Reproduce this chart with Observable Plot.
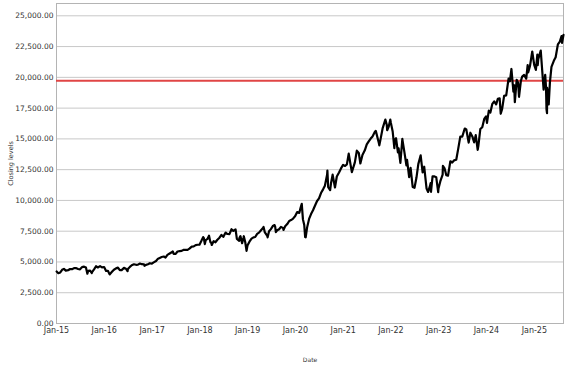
<!DOCTYPE html>
<html>
<head>
<meta charset="utf-8">
<script src="https://cdn.jsdelivr.net/npm/d3@7"></script>
<script src="https://cdn.jsdelivr.net/npm/@observablehq/plot@0.6"></script>
<style>
  html, body { margin: 0; padding: 0; background: #fff; }
  #chart svg { display: block; }
</style>
</head>
<body>
<div id="chart"></div>
<script>
// Closing levels (date, close)
const y2015 = [["2015-01-02",4230],["2015-01-15",4090],["2015-01-30",4150],["2015-02-13",4360],["2015-02-27",4440],["2015-03-13",4300],["2015-03-31",4330],["2015-04-15",4430],["2015-04-30",4415],["2015-05-15",4500],["2015-05-29",4510],["2015-06-15",4430],["2015-06-30",4400],["2015-07-15",4580],["2015-07-31",4620],["2015-08-14",4550],["2015-08-25",4050],["2015-08-31",4270],["2015-09-15",4290],["2015-09-28",4100],["2015-09-30",4180],["2015-10-15",4400],["2015-10-30",4650],["2015-11-13",4550],["2015-11-30",4665],["2015-12-15",4560],["2015-12-31",4590]];
const y2016 = [["2016-01-15",4270],["2016-01-29",4280],["2016-02-11",3990],["2016-02-29",4200],["2016-03-15",4370],["2016-03-31",4480],["2016-04-15",4540],["2016-04-29",4340],["2016-05-13",4340],["2016-05-31",4520],["2016-06-15",4450],["2016-06-27",4250],["2016-06-30",4420],["2016-07-15",4600],["2016-07-29",4730],["2016-08-15",4810],["2016-08-31",4770],["2016-09-15",4780],["2016-09-30",4875],["2016-10-14",4820],["2016-10-31",4810],["2016-11-04",4690],["2016-11-15",4760],["2016-11-30",4810],["2016-12-15",4900],["2016-12-30",4860]];
const y2017 = [["2017-01-13",4970],["2017-01-31",5080],["2017-02-15",5270],["2017-02-28",5330],["2017-03-15",5400],["2017-03-31",5440],["2017-04-13",5360],["2017-04-28",5580],["2017-05-15",5690],["2017-05-31",5790],["2017-06-08",5860],["2017-06-15",5650],["2017-06-30",5650],["2017-07-14",5850],["2017-07-31",5880],["2017-08-15",5900],["2017-08-31",5990],["2017-09-15",5990],["2017-09-29",5980],["2017-10-13",6080],["2017-10-31",6250],["2017-11-15",6270],["2017-11-30",6370],["2017-12-15",6400],["2017-12-29",6400]];
const y2018 = [["2018-01-12",6700],["2018-01-26",7020],["2018-01-31",6950],["2018-02-08",6450],["2018-02-15",6780],["2018-02-28",6870],["2018-03-12",7130],["2018-03-23",6590],["2018-03-29",6580],["2018-04-02",6380],["2018-04-16",6690],["2018-04-30",6600],["2018-05-15",6800],["2018-05-31",6970],["2018-06-15",7200],["2018-06-29",7040],["2018-07-17",7390],["2018-07-31",7270],["2018-08-15",7260],["2018-08-31",7660],["2018-09-14",7520],["2018-09-28",7630],["2018-10-01",7640],["2018-10-11",6880],["2018-10-29",6720],["2018-10-31",6970],["2018-11-07",7100],["2018-11-20",6530],["2018-11-30",6950],["2018-12-03",7090],["2018-12-14",6600],["2018-12-24",5900],["2018-12-31",6330]];
const y2019 = [["2019-01-15",6650],["2019-01-31",6900],["2019-02-15",7000],["2019-02-28",7030],["2019-03-15",7280],["2019-03-29",7380],["2019-04-15",7600],["2019-04-30",7780],["2019-05-03",7850],["2019-05-13",7400],["2019-05-31",7130],["2019-06-03",7000],["2019-06-14",7500],["2019-06-28",7670],["2019-07-15",7950],["2019-07-26",8000],["2019-07-31",7850],["2019-08-05",7430],["2019-08-15",7570],["2019-08-30",7660],["2019-09-13",7850],["2019-09-30",7750],["2019-10-02",7600],["2019-10-15",7900],["2019-10-31",8080],["2019-11-15",8330],["2019-11-29",8400],["2019-12-13",8500],["2019-12-31",8730]];
const y2020 = [["2020-01-15",9050],["2020-01-31",8990],["2020-02-10",9400],["2020-02-19",9720],["2020-02-28",8460],["2020-03-09",8000],["2020-03-16",7020],["2020-03-20",7000],["2020-03-31",7810],["2020-04-15",8500],["2020-04-30",8890],["2020-05-15",9200],["2020-05-29",9550],["2020-06-15",9950],["2020-06-30",10160],["2020-07-15",10600],["2020-07-31",10900],["2020-08-14",11200],["2020-08-31",12110],["2020-09-02",12420],["2020-09-08",11070],["2020-09-23",10830],["2020-09-30",11420],["2020-10-12",12090],["2020-10-30",11050],["2020-11-13",11940],["2020-11-30",12270],["2020-12-15",12600],["2020-12-31",12890]];
const y2021 = [["2021-01-15",12800],["2021-01-29",12930],["2021-02-12",13800],["2021-02-26",12910],["2021-03-08",12300],["2021-03-31",13090],["2021-04-15",14040],["2021-04-30",13860],["2021-05-12",13000],["2021-05-28",13690],["2021-06-15",14070],["2021-06-30",14550],["2021-07-15",14800],["2021-07-30",15030],["2021-08-13",15200],["2021-08-31",15580],["2021-09-07",15650],["2021-09-30",14690],["2021-10-04",14470],["2021-10-15",15060],["2021-10-29",15850],["2021-11-19",16570],["2021-11-30",16140],["2021-12-03",15700],["2021-12-15",16000],["2021-12-27",16570],["2021-12-31",16320]];
const y2022 = [["2022-01-14",15600],["2022-01-27",14250],["2022-01-31",14930],["2022-02-09",15050],["2022-02-23",13900],["2022-02-28",14240],["2022-03-14",13050],["2022-03-29",15000],["2022-03-31",14840],["2022-04-14",13900],["2022-04-29",12850],["2022-05-04",13300],["2022-05-20",11900],["2022-05-31",12640],["2022-06-16",11100],["2022-06-30",11030],["2022-07-15",11860],["2022-07-29",12950],["2022-08-16",13670],["2022-08-31",12270],["2022-09-12",12740],["2022-09-30",10970],["2022-10-12",10690],["2022-10-27",11200],["2022-10-31",11400],["2022-11-03",10700],["2022-11-15",11950],["2022-11-30",11950],["2022-12-13",11890],["2022-12-28",10680],["2022-12-30",10940]];
const y2023 = [["2023-01-13",11540],["2023-01-31",12100],["2023-02-02",12800],["2023-02-15",12600],["2023-02-28",12040],["2023-03-13",12000],["2023-03-31",13180],["2023-04-14",13080],["2023-04-28",13250],["2023-05-15",13300],["2023-05-31",14250],["2023-06-15",15180],["2023-06-30",15180],["2023-07-19",15840],["2023-07-31",15760],["2023-08-18",14700],["2023-08-31",15500],["2023-09-15",15200],["2023-09-29",14720],["2023-10-11",15300],["2023-10-26",14110],["2023-10-31",14410],["2023-11-15",15800],["2023-11-30",15950],["2023-12-15",16620],["2023-12-29",16830]];
const y2024 = [["2024-01-05",16300],["2024-01-19",17300],["2024-01-31",17140],["2024-02-15",17850],["2024-02-29",18040],["2024-03-15",17800],["2024-03-28",18250],["2024-04-11",18300],["2024-04-19",17040],["2024-04-30",17440],["2024-05-15",18500],["2024-05-31",18540],["2024-06-18",19900],["2024-06-28",19680],["2024-07-10",20680],["2024-07-25",18830],["2024-07-31",19360],["2024-08-05",17990],["2024-08-19",19800],["2024-08-30",19570],["2024-09-06",18420],["2024-09-20",19700],["2024-09-30",20060],["2024-10-15",20200],["2024-10-31",19890],["2024-11-11",21000],["2024-11-15",20400],["2024-11-29",20930],["2024-12-16",22100],["2024-12-31",21010]];
const y2025 = [["2025-01-13",20600],["2025-01-24",21850],["2025-01-27",21000],["2025-01-31",21480],["2025-02-19",22175],["2025-02-28",20880],["2025-03-10",19430],["2025-03-13",19000],["2025-03-25",20200],["2025-03-31",19280],["2025-04-04",17400],["2025-04-08",17090],["2025-04-09",19150],["2025-04-21",17800],["2025-04-30",19570],["2025-05-12",20850],["2025-05-30",21340],["2025-06-13",21630],["2025-06-30",22680],["2025-07-15",22900],["2025-07-28",23350],["2025-08-01",22800],["2025-08-12",23450]];

const referenceLevel = [19720];
const yTicks = [0, 2500, 5000, 7500, 10000, 12500, 15000, 17500, 20000, 22500, 25000];
const xTickDates = ["2015-01-01","2016-01-01","2017-01-01","2018-01-01","2019-01-01","2020-01-01","2021-01-01","2022-01-01","2023-01-01","2024-01-01","2025-01-01"];

const parse = d3.utcParse("%Y-%m-%d");
const data = [...y2015, ...y2016, ...y2017, ...y2018, ...y2019, ...y2020, ...y2021, ...y2022, ...y2023, ...y2024, ...y2025]
  .map(([d, v]) => ({date: parse(d), close: v}));
const xTicks = xTickDates.map(parse);

const chart = Plot.plot({
  width: 577,
  height: 367,
  marginLeft: 56,
  marginRight: 14,
  marginTop: 3,
  marginBottom: 44,
  style: {fontFamily: "DejaVu Sans", fontSize: "7.5px", color: "#333", background: "#fff"},
  x: {type: "utc", domain: [parse("2015-01-01"), parse("2025-08-12")]},
  y: {domain: [0, 26000]},
  marks: [
    Plot.gridY(yTicks, {stroke: "#c8c8c8", strokeOpacity: 1}),
    Plot.frame({stroke: "#b4b4b4"}),
    Plot.ruleY(referenceLevel, {stroke: "#e04545", strokeWidth: 2}),
    Plot.lineY(data, {x: "date", y: "close", stroke: "#000", strokeWidth: 2.2}),
    Plot.axisY({ticks: yTicks, tickSize: 0, tickPadding: 3, tickFormat: d3.format(",.2f"),
      label: null}),
    Plot.axisY({ticks: [], tickSize: 0, label: "Closing levels", labelAnchor: "center", labelArrow: "none",
      labelOffset: 48, fontSize: "6.5px"}),
    Plot.axisX({ticks: xTicks, tickSize: 0, tickPadding: 4, tickFormat: d3.utcFormat("%b-%y"), fontSize: "8px",
      label: null}),
    Plot.axisX({ticks: [], tickSize: 0, label: "Date", labelAnchor: "center", labelArrow: "none",
      labelOffset: 38, fontSize: "6px"})
  ]
});
document.getElementById("chart").appendChild(chart);
</script>
</body>
</html>
